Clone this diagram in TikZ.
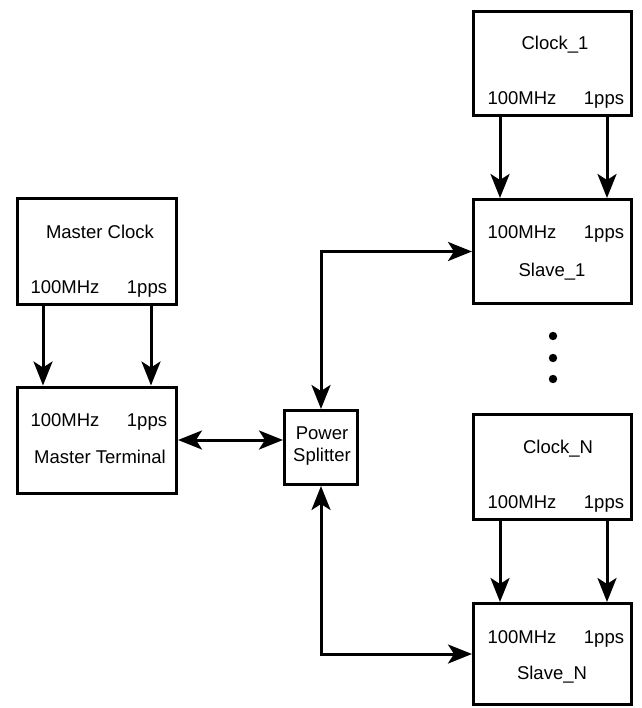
\documentclass[tikz,border=0pt]{standalone}
\usepackage{fontspec}
\setmainfont{Liberation Sans}
\usetikzlibrary{arrows.meta}
\begin{document}
\begin{tikzpicture}[x=1pt,y=-1pt,
  box/.style={draw, line width=3pt, inner sep=0pt},
  lbl/.style={font=\fontsize{18.5}{20}\selectfont, inner sep=0pt, text height=13pt, text depth=0pt},
  tip/.style={Stealth[length=24pt,width=19pt,inset=6pt]},
  arr/.style={line width=3pt, -{Stealth[length=24pt,width=19pt,inset=6pt]}},
  darr/.style={line width=3pt, {Stealth[length=24pt,width=19pt,inset=6pt]}-{Stealth[length=24pt,width=19pt,inset=6pt]}}]
\useasboundingbox (0,0) rectangle (641,708);
% boxes
\node[box, minimum width=159pt, minimum height=106pt] (mc) at (97,251.5) {};
\node[box, minimum width=159pt, minimum height=106pt] (mt) at (97,440) {};
\node[box, minimum width=73pt, minimum height=74pt] (ps) at (321,447.5) {};
\node[box, minimum width=158pt, minimum height=104pt] (c1) at (552.5,63.5) {};
\node[box, minimum width=158pt, minimum height=104pt] (s1) at (552.5,251.5) {};
\node[box, minimum width=158pt, minimum height=105pt] (cn) at (552.5,467) {};
\node[box, minimum width=158pt, minimum height=101pt] (sn) at (552.5,654) {};
% texts
\node[lbl] (mct) at (100,232) {Master Clock};
\node[lbl] (mca) at (65,287) {100MHz};
\node[lbl] (mcb) at (147,287) {1pps};
\node[lbl] (mta) at (65,420) {100MHz};
\node[lbl] (mtb) at (147,420) {1pps};
\node[lbl] (mtt) at (100,457) {Master Terminal};
\node[lbl] (psa) at (322,433) {Power};
\node[lbl] (psb) at (322,455) {Splitter};
\node[lbl] (c1t) at (555,43) {Clock\_1};
\node[lbl] (c1a) at (522,98) {100MHz};
\node[lbl] (c1b) at (604,98) {1pps};
\node[lbl] (s1a) at (522,232) {100MHz};
\node[lbl] (s1b) at (604,232) {1pps};
\node[lbl] (s1t) at (552,270) {Slave\_1};
\node[lbl] (cnt) at (558,447) {Clock\_N};
\node[lbl] (cna) at (522,502) {100MHz};
\node[lbl] (cnb) at (604,502) {1pps};
\node[lbl] (sna) at (522,637) {100MHz};
\node[lbl] (snb) at (604,637) {1pps};
\node[lbl] (snt) at (552,673) {Slave\_N};
% dots
\fill (553,336) circle (4.2pt);
\fill (553,358) circle (4.2pt);
\fill (553,379) circle (4.2pt);
% vertical arrows
\coordinate (xl) at (43,0);
\coordinate (xr) at (151,0);
\coordinate (xl2) at (500,0);
\coordinate (xr2) at (607,0);
\draw[arr] (mc.south -| xl) -- (mt.north -| xl);
\draw[arr] (mc.south -| xr) -- (mt.north -| xr);
\draw[arr] (c1.south -| xl2) -- (s1.north -| xl2);
\draw[arr] (c1.south -| xr2) -- (s1.north -| xr2);
\draw[arr] (cn.south -| xl2) -- (sn.north -| xl2);
\draw[arr] (cn.south -| xr2) -- (sn.north -| xr2);
% splitter links
\draw[darr] (mt.east) -- (mt.east -| ps.west);
\draw[darr] (ps.north) |- (s1.west);
\draw[darr] (ps.south) |- (sn.west);
\end{tikzpicture}
\end{document}
